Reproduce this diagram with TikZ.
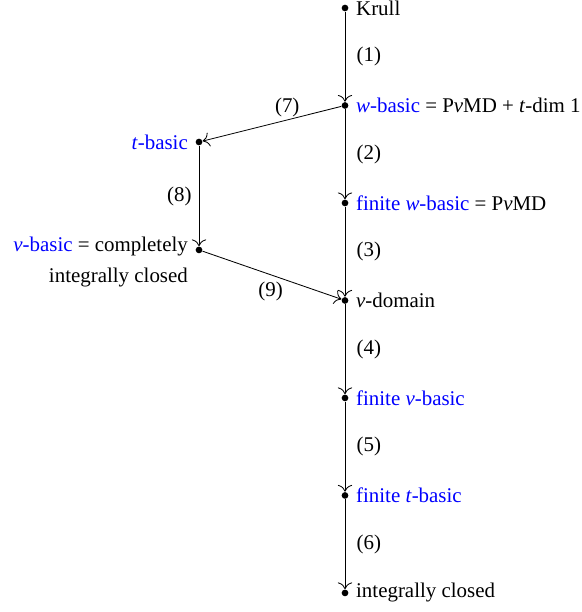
\documentclass[tikz,border=0pt]{standalone}
\usepackage{fontspec}
\setmainfont{Liberation Serif}
\usetikzlibrary{arrows.meta}

\begin{document}
\begin{tikzpicture}[->,>={To[scale=1.3]},auto,node distance=46.6pt,x=0.478pt,y=-0.478pt,
  dot/.style={circle,fill,inner sep=0pt,minimum size=3.2pt},
  num/.style={xshift=2pt}]
\useasboundingbox (0,0) rectangle (582,612);

\node[dot,label=right:Krull] (K) at (345,8) {};
\node[dot,label=right:{\textcolor{blue}{\textit{w}-basic} = P\textit{v}MD + \textit{t}-dim 1}] (W) [below of=K] {};
\node[dot,label=right:{\textcolor{blue}{finite \textit{w}-basic} = P\textit{v}MD}] (FW) [below of=W] {};
\node[dot,label=right:{\textit{v}-domain}] (VD) [below of=FW] {};
\node[dot,label=right:{\textcolor{blue}{finite \textit{v}-basic}}] (FV) [below of=VD] {};
\node[dot,label=right:{\textcolor{blue}{finite \textit{t}-basic}}] (FT) [below of=FV] {};
\node[dot,label=right:integrally closed] (IC) [below of=FT] {};

\node[dot,label=left:{\textcolor{blue}{\textit{t}-basic}}] (T) at (199,142) {};
\node[dot,node distance=51.6pt,
  label={[anchor=north east,yshift=9.6pt,align=right]left:{\textcolor{blue}{\textit{v}-basic} = completely\\[2.9pt]integrally closed}}] (V) [below of=T] {};

\path
  (K) edge node[num] {(1)} (W)
  (W) edge node[num] {(2)} (FW)
  (FW) edge node[num] {(3)} (VD)
  (VD) edge node[num] {(4)} (FV)
  (FV) edge node[num] {(5)} (FT)
  (FT) edge node[num] {(6)} (IC)
  (W) edge node[pos=0.39,above,inner sep=1pt] {(7)} (T)
  (T) edge[swap] node {(8)} (V)
  (V) edge node[pos=0.49,below] {(9)} (VD)
  ;

\end{tikzpicture}
\end{document}
